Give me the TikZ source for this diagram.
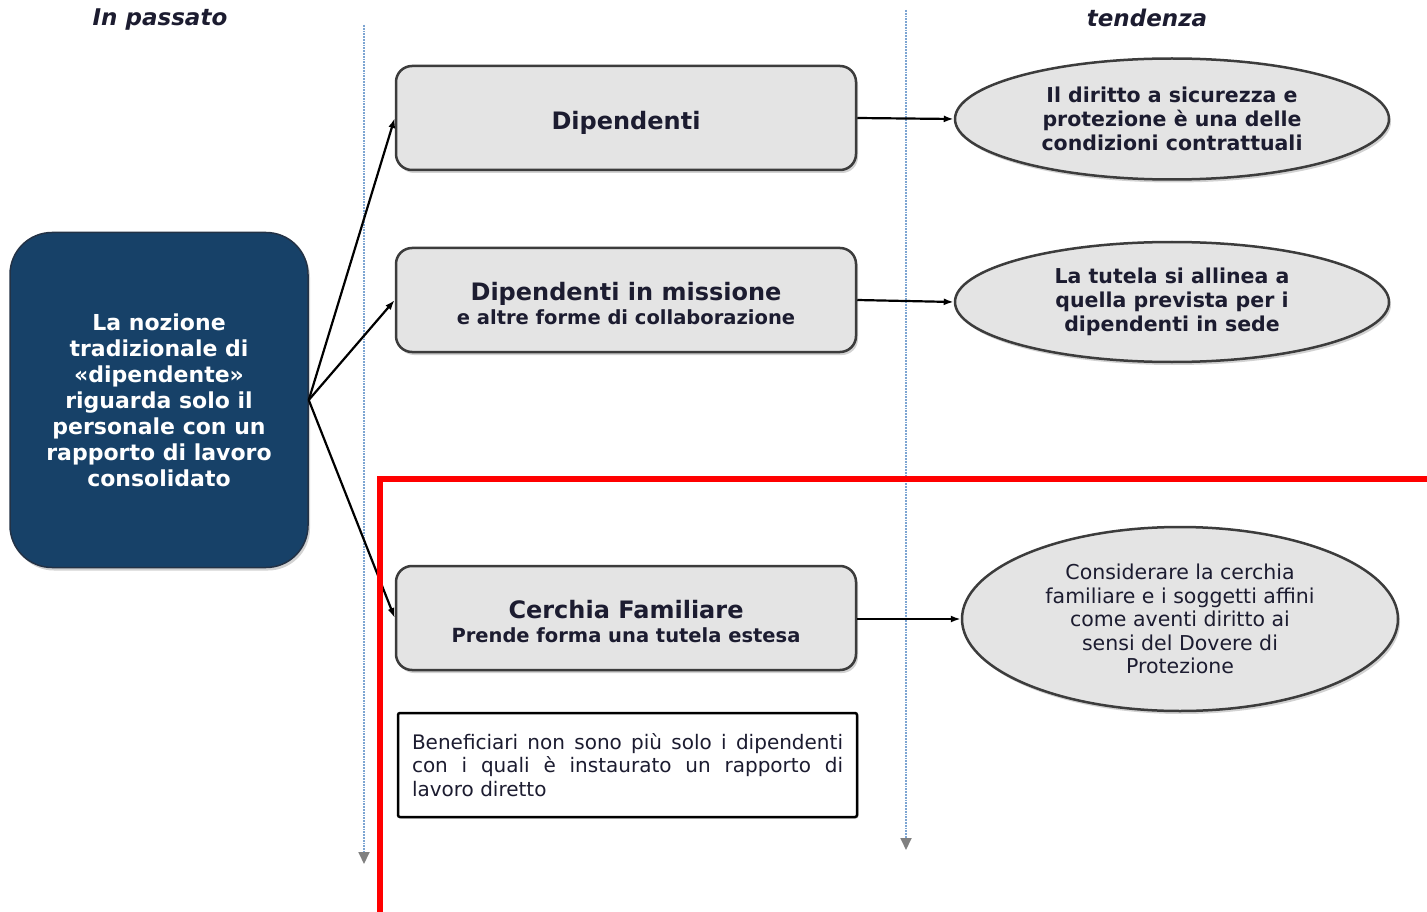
\documentclass[tikz,border=0pt]{standalone}
\usepackage{fontspec}
\setmainfont{DejaVu Sans}
\usetikzlibrary{arrows.meta,shapes.geometric,shadows}
\definecolor{navyfill}{RGB}{23,65,104}
\definecolor{navyline}{RGB}{35,50,70}
\definecolor{boxgray}{RGB}{228,228,228}
\definecolor{boxline}{RGB}{60,60,60}
\definecolor{txt}{RGB}{28,28,48}
\definecolor{guide}{RGB}{125,165,210}
\definecolor{redframe}{RGB}{255,0,0}
\tikzset{
  graybox/.style={draw=boxline, line width=2.5pt, fill=boxgray, rounded corners=16pt,
    minimum width=460pt, minimum height=104pt, align=center, text=txt,
    drop shadow={opacity=0.35, shadow xshift=2pt, shadow yshift=-3pt}},
  navybox/.style={draw=navyline, line width=1.5pt, fill=navyfill, rounded corners=42pt,
    minimum width=298pt, minimum height=335pt, align=center, text=white,
    font=\bfseries\fontsize{22}{26}\selectfont,
    drop shadow={opacity=0.35, shadow xshift=2pt, shadow yshift=-3pt}},
  ell/.style={ellipse, draw=boxline, line width=2.5pt, fill=boxgray, inner sep=0pt,
    align=center, text=txt,
    drop shadow={opacity=0.35, shadow xshift=2pt, shadow yshift=-3pt}},
  notebox/.style={draw=black, line width=2.5pt, fill=white, rounded corners=2pt,
    minimum width=459pt, minimum height=104pt, inner xsep=14pt, text=txt,
    drop shadow={opacity=0.3, shadow xshift=1.5pt, shadow yshift=-1.5pt}},
  twoline/.style={font=\bfseries\fontsize{19.5}{24}\selectfont},
  conn/.style={-{Latex[length=10pt,width=7pt]}, line width=2.2pt, black},
  guideline/.style={guide, line width=1.8pt, densely dotted,
    -{Triangle[length=12pt,width=11pt,color=gray,fill=gray]}},
  titletext/.style={font=\bfseries\itshape\fontsize{23}{27}\selectfont, text=txt}
}
\begin{document}
\begin{tikzpicture}[x=1pt,y=-1pt]
\useasboundingbox[fill=white] (0,0) rectangle (1427,912);

% titles
\node[titletext] (t1) at (160,20) {In passato};
\node[titletext] (t2) at (1147,18) {tendenza};

% vertical guides
\coordinate (g1a) at (364,25);
\coordinate (g1b) at (364,864);
\coordinate (g2a) at (906,10);
\coordinate (g2b) at (906,850);
\draw[guideline] (g1a) -- (g1b);
\draw[guideline] (g2a) -- (g2b);

% left box
\node[navybox] (L) at (159,400) {La nozione\\tradizionale di\\«dipendente»\\riguarda solo il\\personale con un\\rapporto di lavoro\\consolidato};

% middle boxes
\node[graybox, font=\bfseries\fontsize{24}{28}\selectfont] (D) at (626,118) {\rule{0pt}{27pt}Dipendenti};
\node[graybox, twoline] (M) at (626,300) {{\fontsize{24}{24}\selectfont\rule{0pt}{26pt}Dipendenti in missione}\\e altre forme di collaborazione};
\node[graybox, twoline] (C) at (626,618) {{\fontsize{24}{24}\selectfont\rule{0pt}{26pt}Cerchia Familiare}\\Prende forma una tutela estesa};

% note box
\node[notebox, text width=431pt, align=justify, font=\fontsize{20}{23.5}\selectfont] (N) at (627.5,765) {Beneficiari non sono più solo i dipendenti\linebreak con i quali è instaurato un rapporto di\linebreak lavoro diretto};

% ellipses
\node[ell, minimum width=434pt, minimum height=121pt, font=\bfseries\fontsize{20.5}{24}\selectfont] (E1) at (1172,119) {Il diritto a sicurezza e\\protezione è una delle\\condizioni contrattuali};
\node[ell, minimum width=434pt, minimum height=120pt, font=\bfseries\fontsize{20.5}{24}\selectfont] (E2) at (1172,302) {La tutela si allinea a\\quella prevista per i\\dipendenti in sede};
\node[ell, minimum width=436pt, minimum height=184pt, font=\fontsize{20.5}{23.5}\selectfont] (E3) at (1180,619) {Considerare la cerchia\\familiare e i soggetti affini\\come aventi diritto ai\\sensi del Dovere di\\Protezione};

% connectors
\draw[conn] (L.east) -- (D.west);
\draw[conn] (L.east) -- (M.west);
\draw[conn] (L.east) -- (C.west);
\draw[conn] (D.east) -- (E1.west);
\draw[conn] (M.east) -- (E2.west);
\draw[conn] (C.east |- E3.west) -- (E3.west);

% red frame
\coordinate (r1) at (1430,479);
\coordinate (r2) at (380,479);
\coordinate (r3) at (380,915);
\draw[redframe, line width=6pt] (r1) -- (r2) -- (r3);
\end{tikzpicture}
\end{document}
